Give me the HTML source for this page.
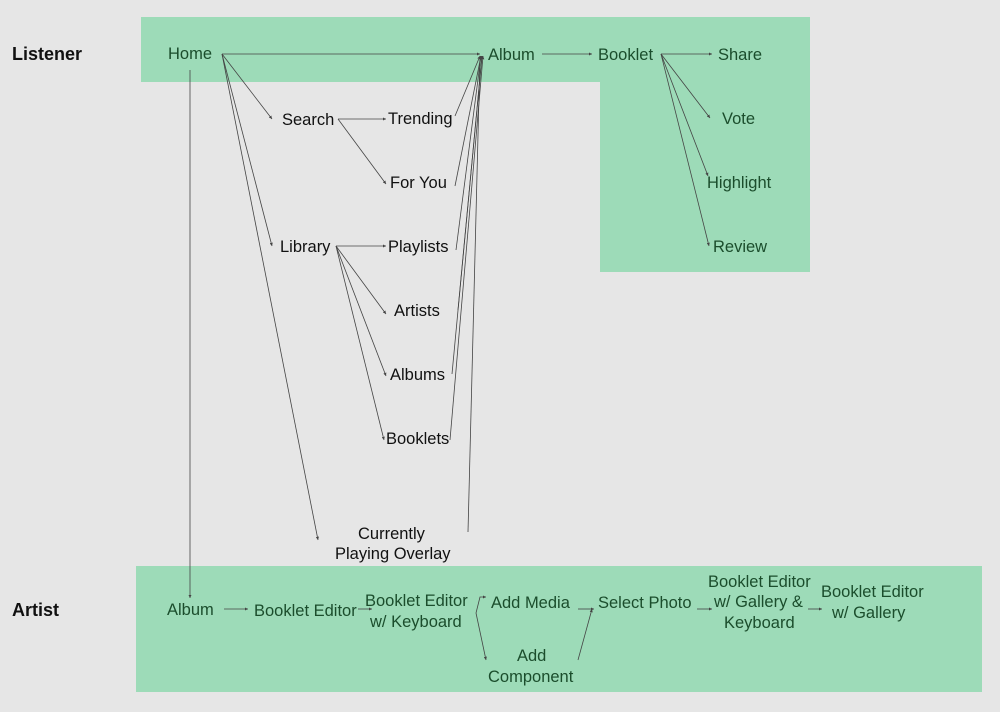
<!DOCTYPE html>
<html><head><style>
body{margin:0;background:#e6e6e6}
svg{display:block}
text{font-family:"Liberation Sans",sans-serif;font-size:16.5px}
.g{fill:#1b4d2c}.k{fill:#111}
.h{font-weight:bold;font-size:18px;fill:#111}
line,polyline{stroke:#444;stroke-width:0.8;fill:none}
</style></head><body>
<svg width="1000" height="712" viewBox="0 0 1000 712">
<defs><marker id="a" viewBox="0 0 6 6" refX="6" refY="3" markerWidth="4" markerHeight="4" orient="auto"><path d="M0,0L6,3L0,6z" fill="#444"/></marker></defs>
<rect width="1000" height="712" fill="#e6e6e6"/>
<path d="M141,17H810V272H600V82H141z" fill="#9ddbb8"/>
<rect x="136" y="566" width="846" height="126" fill="#9ddbb8"/>
<text x="12" y="60" class="h">Listener</text>
<text x="12" y="616" class="h">Artist</text>
<g marker-end="url(#a)">
<line x1="222" y1="54" x2="480" y2="54"/>
<line x1="222" y1="54" x2="272" y2="119"/>
<line x1="222" y1="54" x2="272" y2="246"/>
<line x1="222" y1="54" x2="318" y2="540"/>
<line x1="190" y1="70" x2="190" y2="598"/>
<line x1="455" y1="116" x2="480" y2="56"/>
<line x1="455" y1="186" x2="481" y2="56"/>
<line x1="452" y1="374" x2="482" y2="56"/>
<line x1="450" y1="440" x2="483" y2="56"/>
<line x1="468" y1="532" x2="480" y2="56"/>
<line x1="456" y1="250" x2="481" y2="56"/>
<line x1="458" y1="310" x2="482" y2="56"/>
<line x1="542" y1="54" x2="592" y2="54"/>
<line x1="661" y1="54" x2="712" y2="54"/>
<line x1="661" y1="54" x2="710" y2="118"/>
<line x1="661" y1="54" x2="708" y2="176"/>
<line x1="661" y1="54" x2="709" y2="246"/>
<line x1="338" y1="119" x2="386" y2="119"/>
<line x1="338" y1="119" x2="386" y2="184"/>
<line x1="336" y1="246" x2="386" y2="246"/>
<line x1="336" y1="246" x2="386" y2="314"/>
<line x1="336" y1="246" x2="386" y2="376"/>
<line x1="336" y1="246" x2="384" y2="440"/>
<line x1="224" y1="609" x2="248" y2="609"/>
<line x1="358" y1="609" x2="372" y2="609"/>
<polyline points="476,613 480,597 486,597"/>
<line x1="476" y1="613" x2="486" y2="660"/>
<line x1="578" y1="609" x2="594" y2="609"/>
<line x1="578" y1="660" x2="592" y2="609"/>
<line x1="697" y1="609" x2="712" y2="609"/>
<line x1="808" y1="609" x2="822" y2="609"/>
</g>
<g class="g">
<text x="168" y="59">Home</text>
<text x="488" y="60">Album</text>
<text x="598" y="60">Booklet</text>
<text x="718" y="60">Share</text>
<text x="722" y="124">Vote</text>
<text x="707" y="188">Highlight</text>
<text x="713" y="252">Review</text>
<text x="167" y="615">Album</text>
<text x="254" y="616">Booklet Editor</text>
<text x="365" y="606">Booklet Editor</text>
<text x="370" y="627">w/ Keyboard</text>
<text x="491" y="608">Add Media</text>
<text x="598" y="608">Select Photo</text>
<text x="708" y="587">Booklet Editor</text>
<text x="714" y="607">w/ Gallery &amp;</text>
<text x="724" y="628">Keyboard</text>
<text x="821" y="597">Booklet Editor</text>
<text x="832" y="618">w/ Gallery</text>
<text x="517" y="661">Add</text>
<text x="488" y="682">Component</text>
</g>
<g class="k">
<text x="282" y="125">Search</text>
<text x="388" y="124">Trending</text>
<text x="390" y="188">For You</text>
<text x="280" y="252">Library</text>
<text x="388" y="252">Playlists</text>
<text x="394" y="316">Artists</text>
<text x="390" y="380">Albums</text>
<text x="386" y="444">Booklets</text>
<text x="358" y="539">Currently</text>
<text x="335" y="559">Playing Overlay</text>
</g>
</svg>
</body></html>
